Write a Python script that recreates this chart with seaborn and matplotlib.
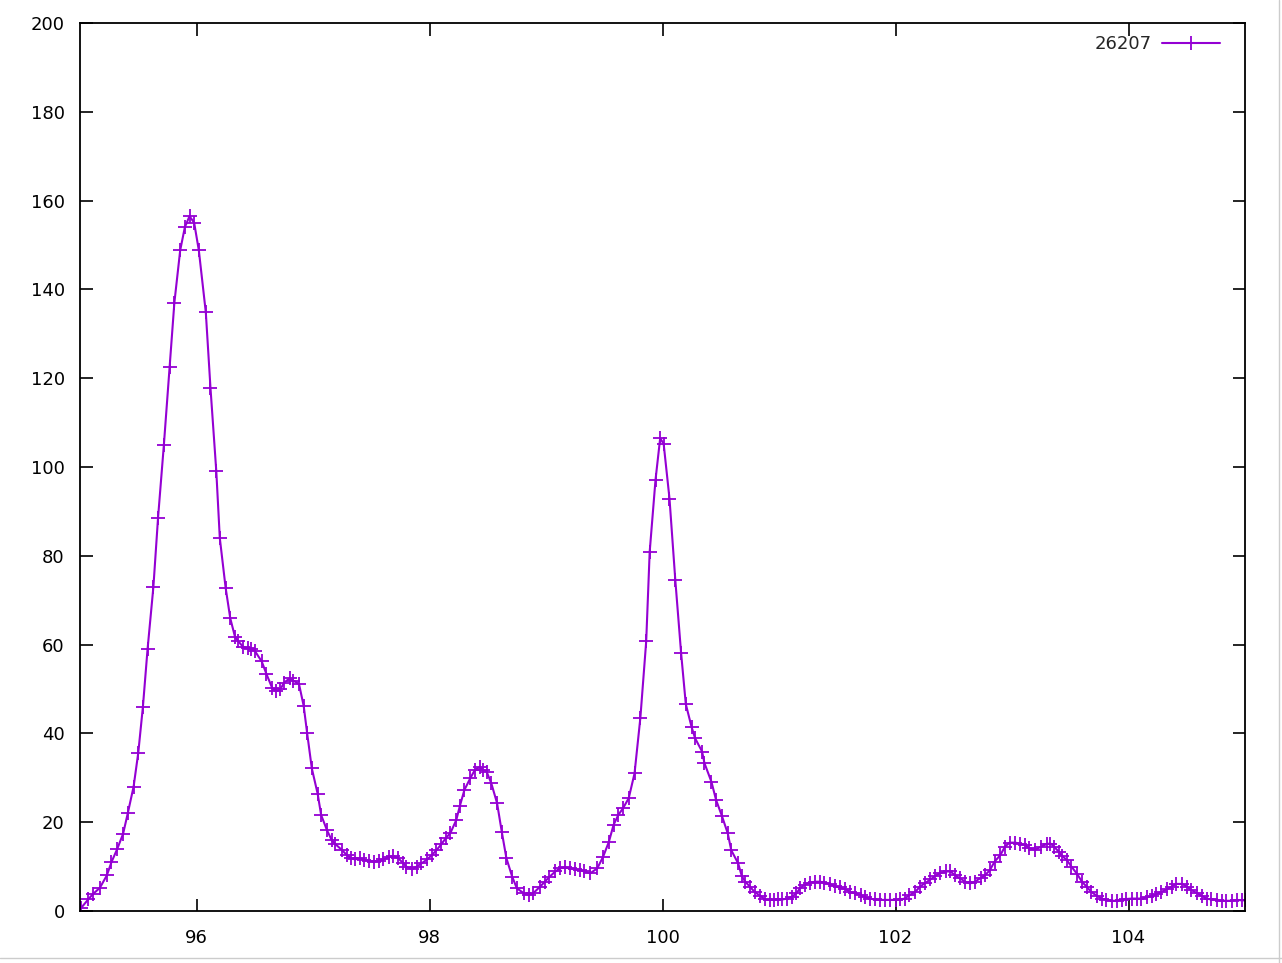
import numpy as np
import pandas as pd
import matplotlib
matplotlib.use("Agg")
import matplotlib.pyplot as plt
from matplotlib.lines import Line2D
import seaborn as sns

# values (x = mass, y = intensity)
mz = [95.01, 95.07, 95.11, 95.17, 95.23, 95.27, 95.32, 95.37, 95.41, 95.46,
      95.50, 95.54, 95.58, 95.63, 95.67, 95.72, 95.77, 95.81, 95.86, 95.90,
      95.94, 95.98, 96.02, 96.08, 96.12, 96.17, 96.20, 96.25, 96.29, 96.33,
      96.36, 96.40, 96.44, 96.47, 96.50, 96.56, 96.60, 96.65, 96.68, 96.72,
      96.75, 96.80, 96.83, 96.88, 96.92, 96.95, 96.99, 97.04, 97.07, 97.12,
      97.16, 97.19, 97.25, 97.29, 97.33, 97.36, 97.40, 97.44, 97.48, 97.52,
      97.57, 97.60, 97.65, 97.69, 97.73, 97.77, 97.80, 97.85, 97.89, 97.93,
      97.98, 98.02, 98.06, 98.10, 98.14, 98.18, 98.23, 98.26, 98.30, 98.35,
      98.39, 98.43, 98.46, 98.49, 98.53, 98.58, 98.62, 98.66, 98.71, 98.75,
      98.81, 98.85, 98.89, 98.95, 98.99, 99.03, 99.08, 99.12, 99.16, 99.21,
      99.25, 99.29, 99.33, 99.38, 99.44, 99.49, 99.54, 99.58, 99.62, 99.66,
      99.71, 99.76, 99.81, 99.86, 99.89, 99.94, 99.98, 100.01, 100.06, 100.11,
      100.16, 100.20, 100.25, 100.28, 100.34, 100.36, 100.42, 100.46, 100.51, 100.56,
      100.59, 100.65, 100.68, 100.71, 100.75, 100.79, 100.84, 100.88, 100.92, 100.96,
      100.99, 101.03, 101.07, 101.11, 101.15, 101.18, 101.22, 101.27, 101.31, 101.35,
      101.39, 101.44, 101.48, 101.52, 101.57, 101.61, 101.65, 101.70, 101.74, 101.78,
      101.82, 101.87, 101.91, 101.95, 102.00, 102.04, 102.08, 102.12, 102.17, 102.21,
      102.25, 102.30, 102.34, 102.38, 102.43, 102.47, 102.51, 102.55, 102.60, 102.64,
      102.68, 102.73, 102.77, 102.81, 102.85, 102.90, 102.94, 102.98, 103.03, 103.07,
      103.11, 103.15, 103.20, 103.25, 103.30, 103.33, 103.36, 103.40, 103.43, 103.47,
      103.51, 103.56, 103.60, 103.64, 103.68, 103.73, 103.77, 103.81, 103.86, 103.90,
      103.94, 103.98, 104.03, 104.07, 104.11, 104.16, 104.20, 104.24, 104.28, 104.33,
      104.37, 104.41, 104.46, 104.50, 104.54, 104.59, 104.63, 104.67, 104.71, 104.76,
      104.80, 104.84, 104.89, 104.93, 104.97, 105.01]

intensity = [0.7, 2.6, 3.8, 5.2, 8.0, 11.0, 14.0, 17.4, 22.0, 28.0,
             35.6, 46.0, 59.0, 73.0, 88.6, 105.0, 122.6, 137.0, 148.8, 154.0,
             156.5, 155.0, 148.8, 134.8, 117.8, 99.0, 84.0, 72.8, 65.9, 61.8,
             60.7, 59.5, 59.2, 58.9, 58.6, 56.2, 53.4, 50.2, 49.5, 49.9,
             51.4, 52.4, 51.9, 51.1, 46.2, 40.0, 32.1, 26.4, 21.6, 18.2,
             16.0, 15.1, 13.7, 12.6, 11.9, 11.6, 11.9, 11.5, 11.3, 11.1,
             11.3, 11.6, 12.1, 12.4, 11.9, 10.9, 10.0, 9.4, 10.0, 10.7,
             11.6, 12.6, 13.7, 15.0, 16.4, 17.6, 20.5, 23.6, 27.3, 29.9,
             31.8, 32.4, 31.8, 31.4, 28.8, 24.3, 17.9, 11.9, 7.7, 5.1,
             4.0, 3.6, 4.0, 5.5, 6.6, 7.7, 8.9, 9.6, 9.8, 9.6,
             9.4, 9.2, 8.9, 8.5, 9.6, 12.2, 15.6, 19.4, 21.6, 23.1,
             25.4, 31.0, 43.5, 60.7, 80.9, 97.1, 106.5, 105.2, 92.9, 74.5,
             58.0, 46.6, 41.4, 38.9, 35.9, 33.3, 29.1, 25.0, 21.4, 17.5,
             13.7, 10.7, 7.9, 6.6, 5.5, 4.3, 3.4, 2.6, 2.5, 2.5,
             2.6, 2.6, 2.8, 3.2, 4.0, 5.1, 5.9, 6.4, 6.6, 6.6,
             6.4, 6.0, 5.6, 5.3, 4.9, 4.3, 4.0, 3.6, 3.1, 2.8,
             2.6, 2.5, 2.5, 2.5, 2.5, 2.6, 2.8, 3.6, 4.3, 5.5,
             6.2, 7.1, 7.9, 8.5, 8.9, 8.9, 8.1, 7.4, 6.6, 6.2,
             6.6, 7.4, 8.1, 9.2, 11.1, 12.6, 14.5, 15.4, 15.4, 15.1,
             14.9, 14.1, 13.8, 14.5, 15.1, 15.2, 14.5, 13.4, 12.4, 11.5,
             10.0, 8.3, 6.6, 5.5, 4.3, 3.4, 2.8, 2.5, 2.3, 2.3,
             2.5, 2.7, 2.8, 2.8, 2.8, 3.1, 3.4, 3.8, 4.3, 4.9,
             5.5, 6.1, 6.1, 5.5, 4.7, 4.0, 3.4, 2.8, 2.6, 2.5,
             2.3, 2.3, 2.3, 2.5, 2.4, 2.4]

series_label = "26207"
x_ticks = [96, 98, 100, 102, 104]
y_ticks = [0, 20, 40, 60, 80, 100, 120, 140, 160, 180, 200]

df = pd.DataFrame({"mz": mz, "intensity": intensity})

sns.set_theme(style="ticks")
plt.rcParams["font.family"] = ["DejaVu Sans"]

fig = plt.figure(figsize=(12.82, 9.63), dpi=100, facecolor="white")
ax = fig.add_axes([80 / 1282, 1 - 911 / 963, 1165 / 1282, 888 / 963])

sns.lineplot(data=df, x="mz", y="intensity", ax=ax, color="#9400d3",
             linewidth=1.5, marker="+", markersize=10, markeredgewidth=1.3,
             markeredgecolor="#9400d3", label=series_label, sort=False,
             estimator=None)

ax.set_xlim(95, 105)
ax.set_ylim(0, 200)
ax.set_xticks(x_ticks)
ax.set_yticks(y_ticks)
ax.set_xlabel("")
ax.set_ylabel("")
for s in ax.spines.values():
    s.set_visible(True)
    s.set_color("black")
    s.set_linewidth(1.3)
ax.tick_params(direction="in", length=9, width=1.2, top=True, right=True,
               labelsize=13, colors="black")
ax.tick_params(axis="x", pad=13)
ax.tick_params(axis="y", pad=11)
ax.grid(False)

ax.legend(loc="upper right", frameon=False, markerfirst=False,
          handlelength=3.2, fontsize=13, borderaxespad=0, borderpad=0,
          handletextpad=0.6,
          bbox_to_anchor=(1 - 25 / 1165, 1 - 12 / 888))

# faint screenshot border at the right and bottom edges
fig.add_artist(Line2D([1279 / 1282, 1279 / 1282], [0, 1], color="#cccccc",
                      linewidth=1, transform=fig.transFigure))
fig.add_artist(Line2D([0, 1], [5 / 963, 5 / 963], color="#cccccc",
                      linewidth=1, transform=fig.transFigure))

fig.savefig("out.png", dpi=100, facecolor="white")
